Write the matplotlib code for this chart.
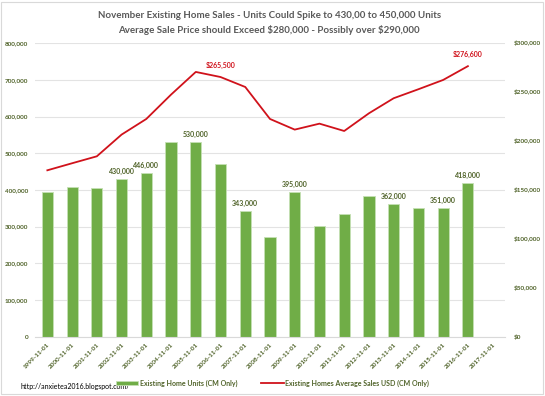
import matplotlib
matplotlib.use("Agg")
import matplotlib.pyplot as plt
from matplotlib.patches import Rectangle
from matplotlib.ticker import FuncFormatter

plt.rcParams['font.family'] = ['Lato', 'DejaVu Sans']
plt.rcParams['text.parse_math'] = False

# data
dates = ['1999-11-01', '2000-11-01', '2001-11-01', '2002-11-01', '2003-11-01',
         '2004-11-01', '2005-11-01', '2006-11-01', '2007-11-01', '2008-11-01',
         '2009-11-01', '2010-11-01', '2011-11-01', '2012-11-01', '2013-11-01',
         '2014-11-01', '2015-11-01', '2016-11-01', '2017-11-01']
units = [394000, 407000, 404000, 430000, 446000, 532000, 530000, 471000, 343000,
         271000, 395000, 302000, 334000, 384000, 362000, 351000, 351000, 418000, None]
prices = [170100, 177300, 184400, 206600, 222600, 247500, 270700, 265500, 255300,
          222600, 211700, 217800, 210300, 228400, 243800, 253000, 262500, 276600, None]
unit_labels = ['2002-11-01', '2003-11-01', '2005-11-01', '2007-11-01',
               '2009-11-01', '2013-11-01', '2015-11-01', '2016-11-01']
price_labels = ['2006-11-01', '2016-11-01']

green = '#70AD47'
red = '#D0121B'
dark_green = '#4F6228'
grey = '#595959'

fig = plt.figure(figsize=(5.45, 3.96), dpi=100)
ax = fig.add_axes([0.0642, 0.15, 0.8624, 0.7407])
ax2 = ax.twinx()

x = list(range(len(dates)))
bar_x = [i for i in x if units[i] is not None]
bar_h = [units[i] for i in bar_x]
ax.bar(bar_x, bar_h, width=0.45, color=green, edgecolor='#C5E0B4', linewidth=0.6,
       zorder=2, label='Existing Home Units (CM Only)')

line_x = [i for i in x if prices[i] is not None]
line_y = [prices[i] for i in line_x]
ax2.plot(line_x, line_y, color=red, linewidth=1.3, zorder=3,
         label='Existing Homes Average Sales USD (CM Only)')

for d in unit_labels:
    i = dates.index(d)
    ax.annotate(f'{units[i]:,}', (i, units[i]), xytext=(0, 3), textcoords='offset points',
                ha='center', va='bottom', fontsize=5, fontweight='bold', color=dark_green)
for d in price_labels:
    i = dates.index(d)
    ax2.annotate(f'${prices[i]:,}', (i, prices[i]), xytext=(0, 6), textcoords='offset points',
                 ha='center', va='bottom', fontsize=5, fontweight='bold', color=red)

ax.set_xlim(-0.5, len(dates) - 0.5)
ax.set_ylim(0, 800000)
ax2.set_ylim(0, 300000)
ax.set_yticks(range(0, 800001, 100000))
ax2.set_yticks(range(0, 300001, 50000))
ax.yaxis.set_major_formatter(FuncFormatter(lambda v, p: f'{int(v):,}'))
ax2.yaxis.set_major_formatter(FuncFormatter(lambda v, p: f'${int(v):,}'))
ax.set_xticks(x)
ax.set_xticklabels(dates, rotation=45, ha='right', rotation_mode='anchor')

ax.grid(axis='y', color='#E3E3E3', linewidth=0.8, zorder=0)
ax.set_axisbelow(True)
for a in (ax, ax2):
    for s in a.spines.values():
        s.set_visible(False)
    a.tick_params(length=0, labelsize=4.6, labelcolor=dark_green)
    for t in a.get_yticklabels() + a.get_xticklabels():
        t.set_fontweight('bold')
ax.spines['bottom'].set_visible(True)
ax.spines['bottom'].set_color('#D9D9D9')
ax.tick_params(axis='y', pad=5)
ax2.tick_params(axis='y', pad=6)
ax.tick_params(axis='x', pad=4)

fig.text(0.494, 0.96, 'November Existing Home Sales - Units Could Spike to 430,00 to 450,000 Units',
         ha='center', va='center', fontsize=7, fontweight='bold', color=grey)
fig.text(0.494, 0.925, 'Average Sale Price should Exceed $280,000 - Possibly over $290,000',
         ha='center', va='center', fontsize=7, fontweight='bold', color=grey)

fig.text(0.037, 0.023, 'http://anxietea2016.blogspot.com/', ha='left', va='center',
         fontsize=5, color='black')
h1, l1 = ax.get_legend_handles_labels()
h2, l2 = ax2.get_legend_handles_labels()
leg = fig.legend(h1 + h2, l1 + l2, loc='center', bbox_to_anchor=(0.5, 0.033), ncol=2,
                 frameon=False, fontsize=5, handlelength=3.2, handleheight=0.5,
                 columnspacing=3.5, handletextpad=0.2)
for t in leg.get_texts():
    t.set_color(dark_green)
    t.set_fontweight('bold')

fig.patches.append(Rectangle((0.002, 0.004), 0.994, 0.992, transform=fig.transFigure,
                             fill=False, edgecolor='#D9D9D9', linewidth=0.8))

fig.savefig('out.png', dpi=100)
